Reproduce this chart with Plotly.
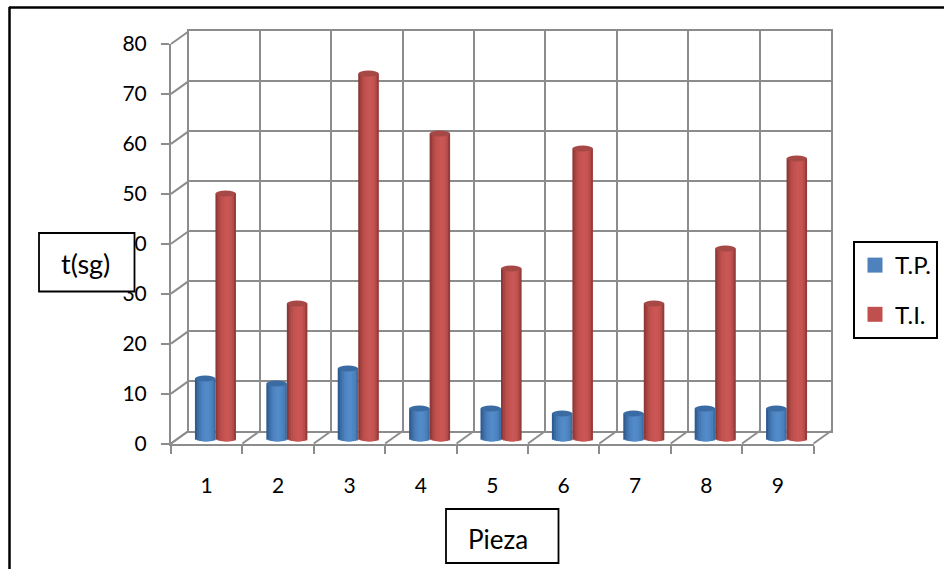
import math
import plotly.graph_objects as go

pieces = [1, 2, 3, 4, 5, 6, 7, 8, 9]
tp_values = [12, 11, 14, 6, 6, 5, 5, 6, 6]
ti_values = [49, 27, 73, 61, 34, 58, 27, 38, 56]
y_ticks = [0, 10, 20, 30, 40, 50, 60, 70, 80]

W, H = 944, 569
FONT = "Lato"
GRID = "#8C8C8C"

def px(v): return v / W
def py(v): return 1 - v / H

FX0, FX1, FY0, FY1 = 171, 813.5, 443.5, 44      # front plane
BX0, BX1, BY0, BY1 = 188.5, 831, 431, 31        # back wall
SLOT = (FX1 - FX0) / 9
BAR_PX = 20.5
RY = 2.9
PX_PER_UNIT = 5.0
MX0, MX1 = (FX0 + BX0) / 2, (FX1 + BX1) / 2

blue_ramp = ["#2F5C90", "#3B6CA4", "#4578B4", "#4C82BF", "#5088C6", "#548CCA", "#528AC8", "#4E85C2", "#4880BA", "#3D6FA6"]
red_ramp = ["#8E3937", "#A84543", "#B84D4A", "#C25250", "#C65451", "#C95755", "#C85654", "#C55351", "#B54C49", "#953D3B"]
N = len(blue_ramp)
w_unit = BAR_PX / SLOT

fig = go.Figure()

# empty traces so that the wall, front plane and label axes are drawn
for xa, ya in (("x", "y"), ("x2", "y2"), ("x4", "y2")):
    fig.add_trace(go.Scatter(x=[None], y=[None], xaxis=xa, yaxis=ya, mode="markers",
                             showlegend=False, hoverinfo="skip"))

def add_series(values, ramp, shift):
    for k, col in enumerate(ramp):
        t = (k + 0.5) / N * 2 - 1
        drop = RY * math.sqrt(1 - t * t) / PX_PER_UNIT
        span = 1.0 if k == N - 1 else 1.9
        fig.add_trace(go.Bar(
            x=pieces,
            y=[v + drop for v in values],
            base=[-drop] * len(values),
            width=w_unit / N * span,
            offset=shift + (k / N) * w_unit,
            marker=dict(color=col, line=dict(width=0)),
            xaxis="x3", yaxis="y3", showlegend=False, hoverinfo="skip",
        ))

add_series(tp_values, blue_ramp, -w_unit)
add_series(ti_values, red_ramp, 0)

# legend entries
for name, col in (("T.P.", "#4F81BD"), ("T.I.", "#C0504D")):
    fig.add_trace(go.Scatter(
        x=[None], y=[None], mode="markers", name=name, legendgroup=name,
        marker=dict(symbol="square", size=15, color=col),
        xaxis="x3", yaxis="y3", hoverinfo="skip",
    ))

shapes = []
line = dict(color=GRID, width=2)
# side wall diagonals
for i in range(len(y_ticks)):
    step = (FY0 - FY1) / (len(y_ticks) - 1) * i
    shapes.append(dict(type="line", xref="paper", yref="paper", layer="below",
                       x0=px(FX0), x1=px(BX0), y0=py(FY0 - step), y1=py(BY0 - step), line=line))
# floor diagonals
for i in range(len(pieces) + 1):
    shapes.append(dict(type="line", xref="paper", yref="paper", layer="below",
                       x0=px(FX0 + SLOT * i), x1=px(BX0 + SLOT * i), y0=py(FY0), y1=py(BY0), line=line))

# cylinder tops
for values, col, sign in ((tp_values, "#3A6CA3", -0.5), (ti_values, "#A64845", 0.5)):
    for p, v in zip(pieces, values):
        c = p + sign * w_unit
        shapes.append(dict(type="circle", xref="x3", yref="y3", ysizemode="pixel", yanchor=v,
                           x0=c - w_unit / 2, x1=c + w_unit / 2, y0=-RY, y1=RY,
                           fillcolor=col, line=dict(width=0)))

# outer frame (top and left only)
black = dict(color="#000000", width=2.5)
shapes.append(dict(type="line", xref="paper", yref="paper", x0=px(9), x1=1, y0=py(7.5), y1=py(7.5), line=black))
shapes.append(dict(type="line", xref="paper", yref="paper", x0=px(9.5), x1=px(9.5), y0=py(7), y1=0, line=black))

# text boxes
box = dict(color="#000000", width=1.8)
shapes.append(dict(type="rect", xref="paper", yref="paper", x0=px(39), x1=px(134.5), y0=py(233), y1=py(291.5),
                   fillcolor="#FFFFFF", line=box))
shapes.append(dict(type="rect", xref="paper", yref="paper", x0=px(446), x1=px(558.5), y0=py(509), y1=py(563),
                   fillcolor="#FFFFFF", line=box))

annotations = [
    dict(text="t(sg)", xref="paper", yref="paper", x=px(85.5), y=py(263), showarrow=False,
         xanchor="center", yanchor="middle", font=dict(family=FONT, size=27, color="#000000")),
    dict(text="Pieza", xref="paper", yref="paper", x=px(498), y=py(539), showarrow=False,
         xanchor="center", yanchor="middle", font=dict(family=FONT, size=26, color="#000000")),
]

hidden = dict(showticklabels=False, ticks="", showgrid=False, zeroline=False, showline=False)

fig.update_layout(
    width=W, height=H, autosize=False,
    margin=dict(l=0, r=0, t=0, b=0, pad=0, autoexpand=False),
    paper_bgcolor="#FFFFFF", plot_bgcolor="rgba(0,0,0,0)",
    barmode="overlay",
    font=dict(family=FONT, size=20, color="#000000"),
    # back wall
    xaxis=dict(domain=[px(BX0), px(BX1)], range=[0, 9], tickvals=list(range(10)), anchor="y",
               showgrid=True, gridcolor=GRID, gridwidth=2, showline=True, linecolor=GRID, linewidth=2, mirror=True,
               showticklabels=False, ticks="", zeroline=False),
    yaxis=dict(domain=[py(BY0), py(BY1)], range=[0, 80], tickvals=y_ticks, anchor="x",
               showgrid=True, gridcolor=GRID, gridwidth=2, showline=True, linecolor=GRID, linewidth=2, mirror=True,
               showticklabels=False, ticks="", zeroline=False),
    # front plane: ticks and value labels
    xaxis2=dict(domain=[px(FX0), px(FX1)], range=[0, 9], tickvals=list(range(10)), anchor="y2",
                showgrid=False, zeroline=False, showline=True, linecolor=GRID, linewidth=2,
                ticks="outside", ticklen=8, tickwidth=2, tickcolor=GRID, showticklabels=False),
    yaxis2=dict(domain=[py(FY0), py(FY1)], range=[0, 80], tickvals=y_ticks, anchor="x2",
                showgrid=False, zeroline=False, showline=True, linecolor=GRID, linewidth=2,
                ticks="outside", ticklen=8, tickwidth=2, tickcolor=GRID,
                ticklabelstandoff=10, tickfont=dict(family=FONT, size=21, color="#000000")),
    # mid-depth plane holding the columns
    xaxis3=dict(domain=[px(MX0), px(MX1)], range=[0.5, 9.5], anchor="y3", **hidden),
    yaxis3=dict(domain=[py(448.5), py(38.5)], range=[-2, 80], anchor="x3", **hidden),
    # category labels on the front plane
    xaxis4=dict(domain=[px(FX0), px(FX1)], range=[0.5, 9.5], tickvals=pieces, anchor="y2",
                showgrid=False, zeroline=False, showline=False, ticks="",
                ticklabelstandoff=27, tickfont=dict(family=FONT, size=21, color="#000000")),
    legend=dict(x=px(853), y=py(241), xanchor="left", yanchor="top",
                bgcolor="#FFFFFF", bordercolor="#000000", borderwidth=2,
                tracegroupgap=15, itemsizing="trace", font=dict(family=FONT, size=24, color="#000000"),
                entrywidth=50, entrywidthmode="pixels"),
    shapes=shapes,
    annotations=annotations,
)

fig.write_html("out.html", config={"displayModeBar": False},
               post_script="document.body.style.margin='0';document.documentElement.style.overflow='hidden';")
